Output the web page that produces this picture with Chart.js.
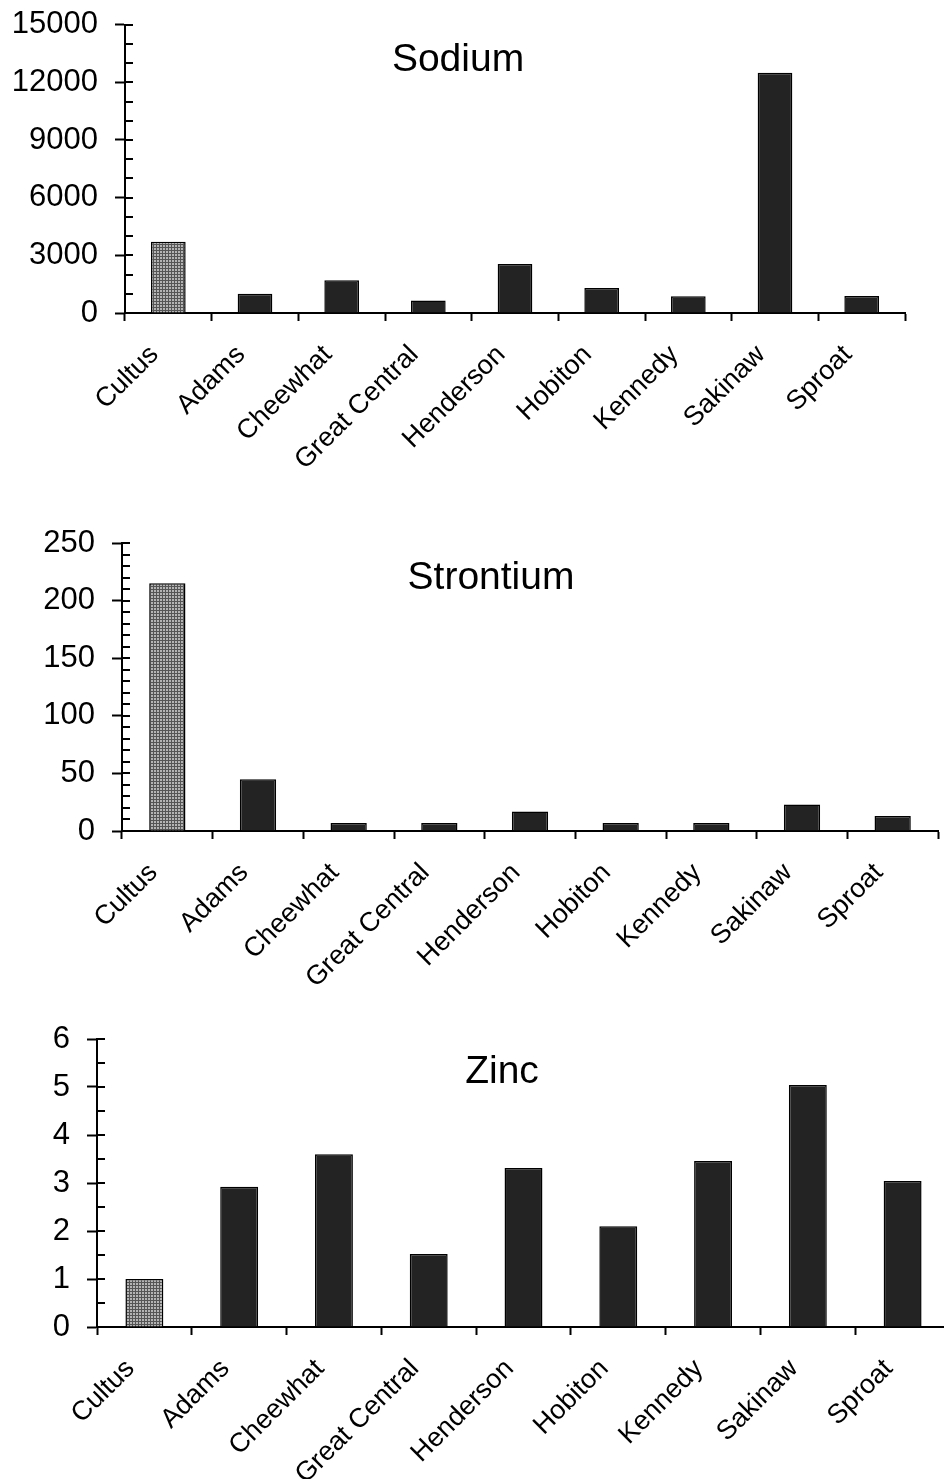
<!DOCTYPE html>
<html>
<head>
<meta charset="utf-8">
<script src="https://cdn.jsdelivr.net/npm/chart.js@4/dist/chart.umd.min.js"></script>
<style>
  html, body { margin: 0; padding: 0; background: #fff; overflow: hidden; width: 944px; height: 1479px; position: relative; }
  canvas { position: absolute; left: 0; }
</style>
</head>
<body>
<canvas id="sodiumChart" width="944" height="501" style="top:-11px"></canvas>
<canvas id="strontiumChart" width="944" height="495" style="top:490px"></canvas>
<canvas id="zincChart" width="960" height="494" style="top:985px"></canvas>
<script>
// Lakes sampled
const categories = ['Cultus', 'Adams', 'Cheewhat', 'Great Central', 'Henderson', 'Hobiton', 'Kennedy', 'Sakinaw', 'Sproat'];

// Concentrations per lake
const sodium    = [3700, 1000, 1700, 650, 2550, 1300, 870, 12500, 880];
const strontium = [215, 45, 7, 7, 17, 7, 7, 23, 13];
const zinc      = [1.0, 2.92, 3.6, 1.52, 3.31, 2.1, 3.46, 5.04, 3.04];

// Axis ranges: [max, minor step, labelled step]
const sodiumAxis    = [15000, 1000, 3000];
const strontiumAxis = [250, 10, 50];
const zincAxis      = [6, 0.5, 1];

const FONT = '"Liberation Sans", Arial, Helvetica, sans-serif';
const DARK = '#232323';

// Fine cross-hatch fill used for the Cultus bar
function hatchPattern() {
  const p = document.createElement('canvas');
  p.width = 3; p.height = 3;
  const g = p.getContext('2d');
  g.fillStyle = '#b4b4b4';
  g.fillRect(0, 0, 3, 3);
  g.fillStyle = '#555555';
  g.fillRect(0, 0, 3, 1);
  g.fillRect(0, 0, 1, 3);
  return g.createPattern(p, 'repeat');
}

// Inward minor ticks on the value axis plus the panel heading
const decor = {
  id: 'decor',
  afterDraw(chart, args, opts) {
    const ctx = chart.ctx;
    const y = chart.scales.y;
    const area = chart.chartArea;
    ctx.save();
    ctx.strokeStyle = '#000';
    ctx.lineWidth = 2;
    y.ticks.forEach(t => {
      const py = Math.round(y.getPixelForValue(t.value));
      ctx.beginPath();
      ctx.moveTo(area.left, py);
      ctx.lineTo(area.left + 8, py);
      ctx.stroke();
    });
    ctx.fillStyle = '#000';
    ctx.font = '39px ' + FONT;
    ctx.textAlign = 'center';
    ctx.textBaseline = 'middle';
    ctx.fillText(opts.text, opts.x, opts.y);
    ctx.restore();
  }
};

function makeChart(id, title, values, axis, geom) {
  const [max, step, labelStep] = axis;
  const isMajor = v => Math.abs(v / labelStep - Math.round(v / labelStep)) < 1e-6;
  const ctx = document.getElementById(id).getContext('2d');
  const fills = values.map((v, i) => i === 0 ? hatchPattern() : DARK);
  return new Chart(ctx, {
    type: 'bar',
    data: {
      labels: categories,
      datasets: [{
        data: values,
        backgroundColor: fills,
        borderColor: '#000',
        borderWidth: 1.5,
        barPercentage: 0.4,
        categoryPercentage: 1.0
      }]
    },
    options: {
      responsive: false,
      animation: false,
      devicePixelRatio: 1,
      layout: { padding: { left: 0, top: geom.top, right: geom.right, bottom: 0 } },
      plugins: {
        legend: { display: false },
        tooltip: { enabled: false },
        decor: { text: title, x: geom.tx, y: geom.ty }
      },
      scales: {
        x: {
          offset: true,
          border: { display: true, color: '#000', width: 2 },
          grid: {
            offset: true,
            drawOnChartArea: false,
            drawTicks: true,
            tickLength: 8,
            tickColor: '#000',
            tickWidth: 2
          },
          ticks: {
            autoSkip: false,
            minRotation: 45,
            maxRotation: 45,
            padding: 18,
            labelOffset: -14,
            color: '#000',
            font: { family: FONT, size: 27 }
          },
          afterFit: s => { s.height = geom.xh; }
        },
        y: {
          min: 0,
          max: max,
          border: { display: true, color: '#000', width: 2 },
          grid: {
            drawOnChartArea: false,
            drawTicks: true,
            tickLength: 10,
            tickWidth: 2,
            tickColor: c => (c.tick && isMajor(c.tick.value)) ? '#000' : 'rgba(0,0,0,0)'
          },
          ticks: {
            stepSize: step,
            autoSkip: false,
            padding: 17,
            color: '#000',
            font: { family: FONT, size: 31 },
            callback: v => isMajor(v) ? String(Math.round(v * 100) / 100) : ''
          },
          afterFit: s => { s.width = geom.yw; }
        }
      }
    },
    plugins: [decor]
  });
}

makeChart('sodiumChart', 'Sodium', sodium, sodiumAxis,
  { top: 35, right: 39, xh: 177, yw: 125, tx: 458, ty: 71 });
makeChart('strontiumChart', 'Strontium', strontium, strontiumAxis,
  { top: 53, right: 6, xh: 154, yw: 122, tx: 491, ty: 88 });
makeChart('zincChart', 'Zinc', zinc, zincAxis,
  { top: 54, right: 10, xh: 152, yw: 97, tx: 502, ty: 87 });
</script>
</body>
</html>
